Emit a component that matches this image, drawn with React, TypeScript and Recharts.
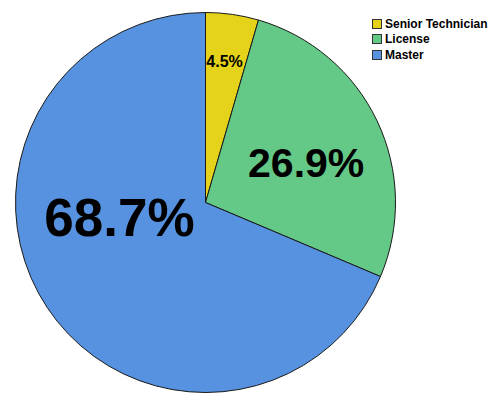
import React from "react";
import { PieChart, Pie, Cell, Legend } from "recharts";

const categories = ["Senior Technician", "License", "Master"];
const shares = [4.5, 26.9, 68.7];
const colors = ["#E5D31B", "#64C887", "#5692E0"];

const data = categories.map((name, i) => ({ name, value: shares[i] }));

// where SPSS dropped each percentage label (angle in degrees, fraction of radius, font px)
const labelSpots = [
  { angle: 82.3, r: 0.75, size: 16 },
  { angle: 21.6, r: 0.57, size: 41 },
  { angle: 189.8, r: 0.46, size: 53 },
];

const RAD = Math.PI / 180;

function renderLabel(props: any) {
  const { cx, cy, outerRadius, index, value } = props;
  const spot = labelSpots[index];
  const x = cx + outerRadius * spot.r * Math.cos(spot.angle * RAD);
  const y = cy - outerRadius * spot.r * Math.sin(spot.angle * RAD);
  return (
    <text
      x={x}
      y={y}
      textAnchor="middle"
      dominantBaseline="central"
      fill="#000"
      fontSize={spot.size}
      fontWeight="bold"
      fontFamily="'Liberation Sans', Arial, sans-serif"
    >
      {`${value.toFixed(1)}%`}
    </text>
  );
}

// recharts sorts the legend payload, so keep the original series order here
function renderLegend() {
  return (
    <div style={{ fontFamily: "'Liberation Sans', Arial, sans-serif", fontSize: 12, fontWeight: "bold", color: "#000" }}>
      {categories.map((name, i) => (
        <div key={name} style={{ display: "flex", alignItems: "center", height: 15.5, whiteSpace: "nowrap" }}>
          <span
            style={{
              display: "inline-block",
              width: 10,
              height: 10,
              background: colors[i],
              border: "1px solid #333",
              marginRight: 3,
              boxSizing: "border-box",
            }}
          />
          {name}
        </div>
      ))}
    </div>
  );
}

export default function App() {
  return (
    <div style={{ position: "absolute", left: 0, top: 0, width: 496, height: 394, background: "#fff" }}>
      <PieChart width={496} height={394} margin={{ top: 0, right: 0, bottom: 0, left: 0 }}>
        <Pie
          data={data}
          dataKey="value"
          nameKey="name"
          cx={205.5}
          cy={202.5}
          outerRadius={190}
          startAngle={90}
          endAngle={-270}
          stroke="#1a1a1a"
          strokeWidth={1}
          label={renderLabel}
          labelLine={false}
          isAnimationActive={false}
        >
          {data.map((d, i) => (
            <Cell key={d.name} fill={colors[i]} />
          ))}
        </Pie>
        <Legend
          layout="vertical"
          verticalAlign="top"
          align="right"
          content={renderLegend}
          wrapperStyle={{ top: 16, left: 372, width: 124 }}
        />
      </PieChart>
    </div>
  );
}
